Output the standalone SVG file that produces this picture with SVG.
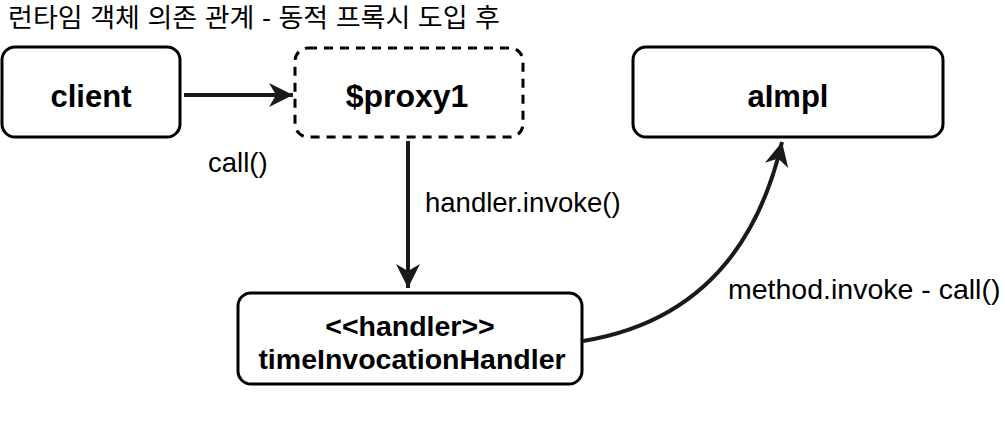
<svg xmlns="http://www.w3.org/2000/svg" width="1005" height="425" viewBox="0 0 1005 425">
<style>
.box{fill:#fff;stroke:#000;stroke-width:3}
.dash{fill:#fff;stroke:#000;stroke-width:3;stroke-dasharray:9 7}
.name{font-family:"Liberation Sans",Arial,sans-serif;font-weight:bold;font-size:31px;fill:#000;text-anchor:middle}
.name2{font-family:"Liberation Sans",Arial,sans-serif;font-weight:bold;font-size:28.5px;fill:#000;text-anchor:middle}
.lbl{font-family:"Liberation Sans",Arial,sans-serif;font-size:27.5px;fill:#000}
.title{font-family:"Liberation Sans","Noto Sans CJK KR",sans-serif;font-size:26px;fill:#000}
.edge{fill:none;stroke:#1a1a1a;stroke-width:4}
</style>
<defs>
<marker id="ah" markerUnits="userSpaceOnUse" markerWidth="26" markerHeight="26" viewBox="0 0 26 26" refX="24" refY="13" orient="auto">
<path d="M0,1 L24,13 L0,25 L7,13 Z" fill="#1a1a1a"/>
</marker>
</defs>
<text class="title" x="8" y="27" textLength="492" lengthAdjust="spacingAndGlyphs">런타임 객체 의존 관계 - 동적 프록시 도입 후</text>
<g id="client">
<rect class="box" x="2" y="47" width="178" height="90" rx="13"/>
<text class="name" x="91" y="107">client</text>
</g>
<g id="proxy">
<rect class="dash" x="295" y="48" width="228" height="89" rx="13"/>
<text class="name" x="407" y="107" style="font-size:32px">$proxy1</text>
</g>
<g id="aImpl">
<rect class="box" x="633" y="47" width="310" height="90" rx="13"/>
<text class="name" x="788" y="107">aImpl</text>
</g>
<g id="handler">
<rect class="box" x="238" y="293" width="344" height="91" rx="13"/>
<text class="name2" x="410" y="336">&lt;&lt;handler&gt;&gt;</text>
<text class="name2" x="412" y="369">timeInvocationHandler</text>
</g>
<g id="connectors">
<line class="edge" x1="184" y1="95" x2="293" y2="95" marker-end="url(#ah)"/>
<line class="edge" x1="408" y1="141" x2="408" y2="288" marker-end="url(#ah)"/>
<path class="edge" d="M583,341 Q742,315 782,142" marker-end="url(#ah)"/>
<text class="lbl" x="208" y="172">call()</text>
<text class="lbl" x="425" y="212">handler.invoke()</text>
<text class="lbl" x="728" y="299" style="font-size:28.5px">method.invoke - call()</text>
</g>
</svg>
